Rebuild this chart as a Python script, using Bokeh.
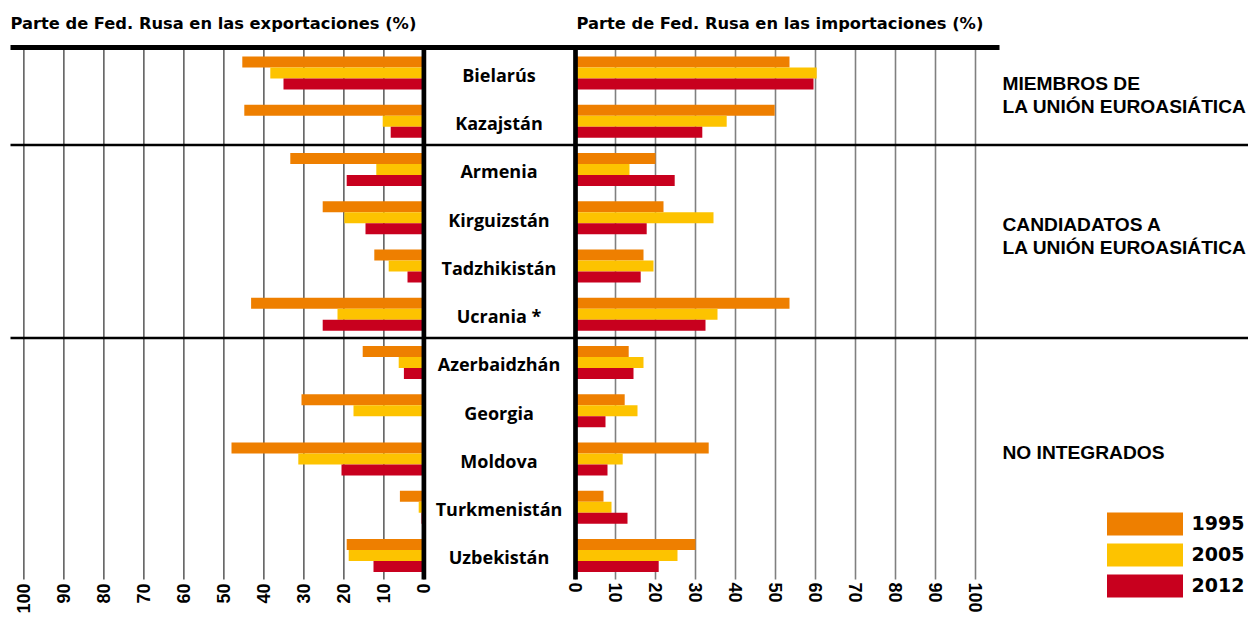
import math
from bokeh.plotting import figure
from bokeh.models import Range1d, ColumnDataSource, Legend, LegendItem
from bokeh.core.properties import value
from bokeh.embed import file_html
from bokeh.resources import INLINE

# ---------------- data ----------------
countries = ["Bielarús", "Kazajstán", "Armenia", "Kirguizstán", "Tadzhikistán", "Ucrania *",
             "Azerbaidzhán", "Georgia", "Moldova", "Turkmenistán", "Uzbekistán"]
years = ["1995", "2005", "2012"]
colors = ["#EE7F00", "#FDC300", "#C8001E"]

exp_1995 = [45.4, 44.9, 33.4, 25.3, 12.4, 43.2, 15.3, 30.6, 48.1, 6.0, 19.3]
exp_2005 = [38.4, 10.3, 11.9, 19.9, 8.8, 21.6, 6.3, 17.6, 31.4, 1.3, 18.8]
exp_2012 = [35.1, 8.3, 19.3, 14.6, 4.1, 25.3, 5.0, 0.0, 20.6, 0.6, 12.6]

imp_1995 = [53.5, 49.8, 20.0, 22.0, 17.0, 53.5, 13.3, 12.3, 33.3, 7.0, 30.0]
imp_2005 = [60.3, 37.8, 13.5, 34.5, 19.5, 35.5, 17.0, 15.5, 11.8, 9.0, 25.5]
imp_2012 = [59.5, 31.7, 24.8, 17.8, 16.3, 32.5, 14.5, 7.5, 8.0, 13.0, 20.8]

tick_values = [0, 10, 20, 30, 40, 50, 60, 70, 80, 90, 100]
tick_labels = ["0", "10", "20", "30", "40", "50", "60", "70", "80", "90", "100"]

title_exp = "Parte de Fed. Rusa en las exportaciones (%)"
title_imp = "Parte de Fed. Rusa en las importaciones (%)"
group_lines = ["MIEMBROS DE", "LA UNIÓN EUROASIÁTICA",
               "CANDIADATOS A", "LA UNIÓN EUROASIÁTICA",
               "NO INTEGRADOS"]

# ---------------- layout (reference pixel geometry) ----------------
W, H = 1248, 614
LEFT, TOP = 0, 0
RIGHT, BOTTOM = LEFT + W, TOP + H
PX_PER_PCT = 4.0
EXP_ZERO, IMP_ZERO = 423.4, 575.0
ROW0, ROW_H = 72.5, 48.25
BAR_H = 11.0 / ROW_H

exp_range = Range1d((LEFT - EXP_ZERO) / -PX_PER_PCT, (RIGHT - EXP_ZERO) / -PX_PER_PCT)
imp_range = Range1d((LEFT - IMP_ZERO) / PX_PER_PCT, (RIGHT - IMP_ZERO) / PX_PER_PCT)
row_range = Range1d((BOTTOM - ROW0) / ROW_H, (TOP - ROW0) / ROW_H)

p = figure(width=W, height=H, output_backend="svg", toolbar_location=None,
           x_range=exp_range, y_range=row_range,
           x_axis_location=None, y_axis_location=None,
           min_border=0, min_border_left=0, min_border_right=0,
           min_border_top=0, min_border_bottom=0,
           outline_line_color=None, background_fill_color="white")
p.grid.visible = False
p.extra_x_ranges = {"imp": imp_range, "px": Range1d(LEFT, RIGHT)}
p.extra_y_ranges = {"px": Range1d(BOTTOM, TOP)}

GRID_TOP, GRID_BOTTOM = 47, 579

# grid lines
p.segment(x0=tick_values, x1=tick_values, y0=GRID_TOP, y1=GRID_BOTTOM,
          y_range_name="px", line_color="#1a1a1a", line_width=1.1)
p.segment(x0=tick_values, x1=tick_values, y0=GRID_TOP, y1=GRID_BOTTOM,
          x_range_name="imp", y_range_name="px", line_color="#808080", line_width=1.6)

# bars
rows = list(range(len(countries)))
exp_series = [exp_1995, exp_2005, exp_2012]
imp_series = [imp_1995, imp_2005, imp_2012]
legend_renderers = []
for j, (yr, col) in enumerate(zip(years, colors)):
    ys = [r + (j - 1) * BAR_H for r in rows]
    src_e = ColumnDataSource(dict(y=ys, v=exp_series[j], c=countries))
    src_i = ColumnDataSource(dict(y=ys, v=imp_series[j], c=countries))
    re_ = p.hbar(y="y", left=0, right="v", height=BAR_H, source=src_e,
                 fill_color=col, line_color=None)
    p.hbar(y="y", left=0, right="v", height=BAR_H, source=src_i,
           x_range_name="imp", fill_color=col, line_color=None)
    legend_renderers.append(re_)

# structural lines
p.segment(x0=[10], x1=[999], y0=[47], y1=[47], x_range_name="px", y_range_name="px",
          line_color="black", line_width=5)
p.segment(x0=[10, 10], x1=[1250, 1250], y0=[144.5, 337.5], y1=[144.5, 337.5],
          x_range_name="px", y_range_name="px", line_color="black", line_width=2.5)
p.segment(x0=[0], x1=[0], y0=[GRID_TOP], y1=[GRID_BOTTOM], y_range_name="px",
          line_color="black", line_width=4.7)
p.segment(x0=[0], x1=[0], y0=[GRID_TOP], y1=[GRID_BOTTOM], x_range_name="imp",
          y_range_name="px", line_color="black", line_width=4.7)

# empirical correction: rendered alphabetic baseline sits lower than requested
def dy(size):
    return 0.43 * size

# titles
TS = 16.3
p.text(x=[10, 576], y=[30.5 - dy(TS)] * 2, text=[title_exp, title_imp],
       x_range_name="px", y_range_name="px",
       text_font=value("DejaVu Sans"), text_font_style="bold", text_font_size=f"{TS}px",
       text_color="black", text_align="left", text_baseline="alphabetic")

# country labels
CS = 18
p.text(x=[498.5] * len(countries), y=[r + (9.5 - dy(CS)) / ROW_H for r in rows], text=countries,
       x_range_name="px",
       text_font=value("Open Sans"), text_font_style="bold", text_font_size=f"{CS}px",
       text_color="black", text_align="center", text_baseline="alphabetic")

# group labels
GS = 19.2
p.text(x=[1002] * len(group_lines), y=[v - dy(GS) for v in [91.7, 114, 232.7, 255, 460.7]],
       text=group_lines, x_range_name="px", y_range_name="px",
       text_font=value("Liberation Sans"), text_font_style="bold", text_font_size=f"{GS}px",
       text_color="black", text_align="left", text_baseline="alphabetic")

# tick labels (rotated)
n = len(tick_values)
p.text(x=tick_values, y=[583] * n, text=tick_labels, y_range_name="px",
       angle=math.pi / 2, text_align="right", text_baseline="middle",
       text_font=value("Liberation Sans"), text_font_style="bold", text_font_size="18px",
       text_color="black")
p.text(x=tick_values, y=[582] * n, text=tick_labels, x_range_name="imp", y_range_name="px",
       angle=-math.pi / 2, text_align="left", text_baseline="middle",
       text_font=value("Liberation Sans"), text_font_style="bold", text_font_size="18px",
       text_color="black")

# legend
legend = Legend(items=[LegendItem(label=yr, renderers=[r]) for yr, r in zip(years, legend_renderers)],
                location=(1096.5 - LEFT, BOTTOM - 599.6),
                glyph_width=95, glyph_height=29, label_standoff=0, spacing=2,
                padding=0, margin=0, border_line_color=None, background_fill_alpha=0,
                label_text_font="DejaVu Sans", label_text_font_style="bold",
                label_text_font_size="19px", label_text_color="black")
try:
    legend.label_standoff = -3
except Exception:
    pass
p.add_layout(legend)

open("out.html", "w").write(file_html(p, INLINE))
